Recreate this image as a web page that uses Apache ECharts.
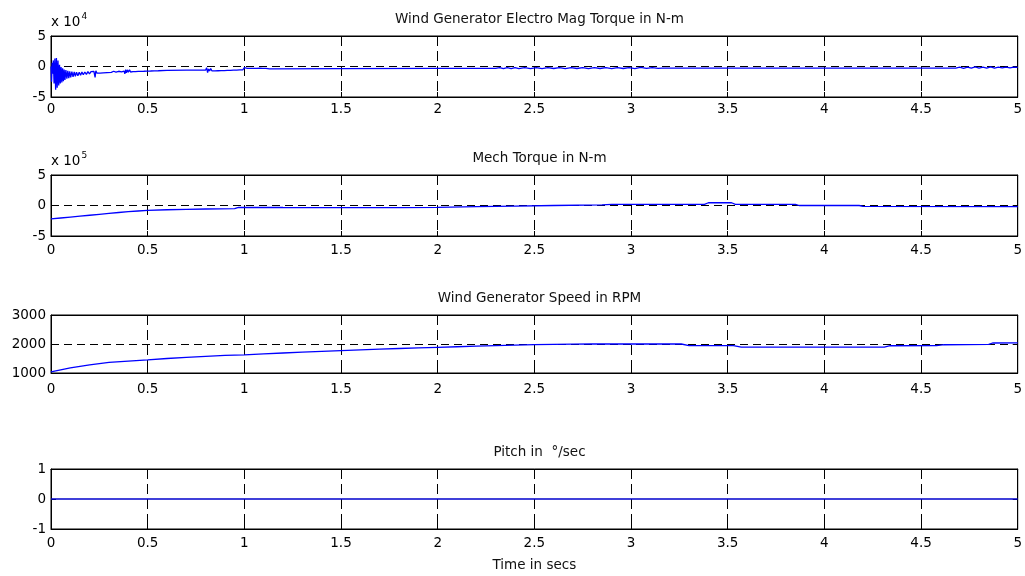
<!DOCTYPE html>
<html>
<head>
<meta charset="utf-8">
<title>Wind generator simulation</title>
<script src="https://cdn.jsdelivr.net/npm/echarts@6/dist/echarts.min.js"></script>
<style>
  html, body { margin: 0; padding: 0; background: #fff; }
  #chart { width: 1025px; height: 576px; }
</style>
</head>
<body>
<div id="chart"></div>
<script>
// Time axis ticks (seconds)
const timeTicks = [0, 0.5, 1, 1.5, 2, 2.5, 3, 3.5, 4, 4.5, 5];

// Panel titles
const panelTitles = [
  'Wind Generator Electro Mag Torque in N-m',
  'Mech Torque in N-m',
  'Wind Generator Speed in RPM',
  'Pitch in  \u00b0/sec'
];

// Electromagnetic torque, [time s, torque x 10^4 N-m]
const emTorque = [
  [0,0],[0.003,-2.5],[0.006,0.6],[0.009,-1.2],[0.012,1.0],[0.016,-2.8],[0.020,1.3],[0.024,-3.8],
  [0.028,1.4],[0.032,-3.5],[0.036,1.0],[0.040,-3.1],[0.044,0.3],[0.048,-2.8],[0.052,-0.1],[0.056,-2.6],
  [0.060,-0.3],[0.064,-2.4],[0.068,-0.5],[0.072,-2.2],[0.077,-0.6],[0.082,-2.0],[0.087,-0.7],[0.092,-1.9],
  [0.097,-0.8],[0.102,-1.8],[0.108,-0.85],[0.114,-1.7],[0.120,-0.9],[0.126,-1.6],[0.132,-0.95],[0.139,-1.5],
  [0.146,-0.95],[0.153,-1.45],[0.160,-0.9],[0.167,-1.35],[0.175,-0.9],[0.183,-1.3],[0.191,-0.85],[0.199,-1.2],
  [0.207,-0.85],[0.215,-1.15],[0.222,-0.8],[0.228,-1.8],[0.232,-0.7],[0.238,-1.1],[0.246,-0.8],[0.254,-1.1],
  [0.262,-0.8],[0.270,-1.05],[0.280,-0.8],[0.290,-1.0],[0.300,-0.8],[0.312,-0.95],[0.324,-0.78],[0.336,-0.92],
  [0.350,-0.78],[0.365,-0.88],[0.378,-0.75],[0.382,-1.2],[0.386,-0.5],[0.390,-1.05],[0.395,-0.55],[0.400,-0.95],
  [0.406,-0.55],[0.412,-0.9],[0.418,-0.6],[0.424,-0.85],[0.430,-0.55],[0.437,-0.85],[0.444,-0.6],[0.451,-0.8],
  [0.458,-0.6],[0.465,-0.8],[0.472,-0.62],[0.480,-0.78],[0.488,-0.6],[0.496,-0.75],[0.505,-0.62],[0.515,-0.74],
  [0.525,-0.62],[0.535,-0.72],[0.545,-0.64],[0.555,-0.7],[0.565,-0.66],[0.6,-0.64],[0.7,-0.6],[0.8,-0.57],
  [0.805,-0.2],[0.81,-1.0],[0.815,-0.4],[0.82,-0.75],[0.826,-0.35],[0.832,-0.7],[0.84,-0.4],[0.848,-0.72],
  [0.856,-0.4],[0.864,-0.7],[0.872,-0.45],[0.880,-0.68],[0.888,-0.42],[0.896,-0.66],[0.904,-0.4],[0.912,-0.64],
  [0.920,-0.42],[0.928,-0.62],[0.936,-0.4],[0.944,-0.6],[0.952,-0.38],[0.960,-0.58],[0.968,-0.3],[0.976,-0.56],
  [0.984,-0.32],[0.992,-0.54],[1.000,-0.2],[1.008,-0.5],[1.016,-0.3],[1.024,-0.5],[1.032,-0.32],[1.040,-0.5],
  [1.048,-0.3],[1.056,-0.5],[1.064,-0.3],[1.072,-0.48],[1.080,-0.28],[1.088,-0.46],[1.096,-0.3],[1.104,-0.45],
  [1.112,-0.3],[1.120,-0.42],[1.13,-0.38],[1.5,-0.35],[2.0,-0.31],[2.3,-0.3],
  [2.32,-0.18],[2.34,-0.36],[2.36,-0.2],[2.38,-0.35],[2.40,-0.18],[2.42,-0.34],[2.45,-0.2],[2.48,-0.36],
  [2.51,-0.17],[2.54,-0.35],[2.57,-0.2],[2.60,-0.33],[2.63,-0.18],[2.66,-0.34],[2.69,-0.2],[2.72,-0.33],
  [2.75,-0.17],[2.78,-0.35],[2.81,-0.2],[2.84,-0.33],[2.87,-0.18],[2.90,-0.34],[2.93,-0.17],[2.96,-0.33],
  [2.99,-0.19],[3.02,-0.34],[3.05,-0.16],[3.08,-0.32],[3.11,-0.18],[3.14,-0.3],[3.16,-0.28],[4.0,-0.27],
  [4.68,-0.26],[4.70,-0.12],[4.72,-0.3],[4.74,-0.1],[4.76,-0.28],[4.78,-0.08],[4.80,-0.27],[4.82,-0.1],
  [4.84,-0.26],[4.86,-0.08],[4.88,-0.25],[4.90,-0.1],[4.92,-0.24],[4.94,-0.09],[4.96,-0.22],[4.98,-0.1],
  [5.0,-0.15]
];

// Mechanical torque, [time s, torque x 10^5 N-m]
const mechTorque = [
  [0,-2.2],[0.05,-2.05],[0.1,-1.9],[0.15,-1.75],[0.2,-1.6],[0.25,-1.45],[0.3,-1.3],[0.35,-1.15],
  [0.4,-1.0],[0.45,-0.9],[0.5,-0.8],[0.6,-0.7],[0.7,-0.62],[0.8,-0.57],[0.95,-0.52],[0.97,-0.3],
  [1.2,-0.33],[1.5,-0.36],[1.8,-0.35],[2.0,-0.3],[2.2,-0.2],[2.4,-0.1],[2.6,0.0],[2.85,0.1],
  [2.9,0.2],[3.38,0.2],[3.4,0.45],[3.52,0.45],[3.54,0.2],[3.85,0.2],[3.87,0.0],[4.18,0.0],
  [4.2,-0.15],[5,-0.18]
];

// Generator speed, [time s, RPM]
const genSpeed = [
  [0,1040],[0.05,1110],[0.1,1175],[0.15,1230],[0.2,1280],[0.25,1325],[0.3,1365],[0.4,1410],
  [0.5,1450],[0.6,1500],[0.7,1540],[0.8,1575],[0.9,1605],[1.0,1625],[1.1,1660],[1.2,1690],
  [1.3,1720],[1.4,1748],[1.5,1775],[1.6,1800],[1.7,1822],[1.8,1845],[1.9,1865],[2.0,1885],
  [2.1,1905],[2.2,1925],[2.3,1945],[2.4,1962],[2.5,1978],[2.6,1988],[2.7,1995],[2.8,2000],
  [3.0,2000],[3.26,2000],[3.3,1945],[3.53,1945],[3.57,1895],[4.31,1895],[4.34,1940],[4.58,1945],
  [4.62,1975],[4.85,1985],[4.87,2035],[5,2040]
];

// Pitch rate, [time s, deg/sec]
const pitchRate = [[0,0],[5,0]];

// Y-axis ranges per panel: [min, max, interval]
const yRanges = [[-5, 5, 5], [-5, 5, 5], [1000, 3000, 1000], [-1, 1, 1]];
const yExponents = ['4', '5', null, null];

const FONT = 'DejaVu Sans, Liberation Sans, Arial, sans-serif';
const FS = 13.5;
const PLOT_LEFT = 51, PLOT_RIGHT = 1018;
const gridBoxes = [
  { top: 36, height: 61, labelGap: 5 },
  { top: 175, height: 61, labelGap: 7 },
  { top: 315, height: 58, labelGap: 9 },
  { top: 469, height: 60, labelGap: 7 }
];
const titleTops = [7, 146, 286, 440];
const seriesData = [emTorque, mechTorque, genSpeed, pitchRate];
const lineColors = ['#0000ff', '#0000ff', '#0000ff', '#0000cc'];

const vDash = [10, 5];
const hDash = [8, 5];
const grids = [], xAxes = [], yAxes = [], series = [], titles = [];

gridBoxes.forEach((g, i) => {
  grids.push({
    left: PLOT_LEFT, right: 1025 - PLOT_RIGHT, top: g.top, height: g.height,
    show: true, borderColor: '#000', borderWidth: 1, backgroundColor: '#fff'
  });
  titles.push({
    text: panelTitles[i], left: (PLOT_LEFT + PLOT_RIGHT) / 2, top: titleTops[i], textAlign: 'center',
    textStyle: { fontFamily: FONT, fontSize: FS, fontWeight: 'normal', color: '#111' }
  });
  // bottom time axis with dashed vertical grid lines
  const xb = {
    type: 'value', gridIndex: i, min: 0, max: 5, interval: 0.5, position: 'bottom',
    axisLine: { show: true, onZero: false, lineStyle: { color: '#000', width: 1 } },
    axisTick: { show: true, inside: true, length: 5, lineStyle: { color: '#000' } },
    axisLabel: { show: true, fontFamily: FONT, fontSize: FS, color: '#000', margin: g.labelGap },
    splitLine: { show: true, lineStyle: { color: '#000', type: vDash, width: 1 } }
  };
  if (i === 3) {
    xb.name = 'Time in secs';
    xb.nameLocation = 'middle';
    xb.nameGap = 29;
    xb.nameTextStyle = { fontFamily: FONT, fontSize: FS, color: '#111' };
  }
  xAxes.push(xb);
  // top ticks
  xAxes.push({
    type: 'value', gridIndex: i, min: 0, max: 5, interval: 0.5, position: 'top',
    axisLine: { show: true, onZero: false, lineStyle: { color: '#000' } },
    axisTick: { show: true, inside: true, length: 5, lineStyle: { color: '#000' } },
    axisLabel: { show: false }, splitLine: { show: false }
  });
  const r = yRanges[i];
  const yl = {
    type: 'value', gridIndex: i, min: r[0], max: r[1], interval: r[2], position: 'left',
    axisLine: { show: true, onZero: false, lineStyle: { color: '#000', width: 1 } },
    axisTick: { show: true, inside: true, length: 5, lineStyle: { color: '#000' } },
    axisLabel: {
      show: true, fontFamily: FONT, fontSize: FS, color: '#000', margin: 5,
      formatter: v => String(v)
    },
    splitLine: { show: i !== 3, lineStyle: { color: '#000', type: hDash, width: 1 } }
  };
  if (yExponents[i]) {
    yl.name = '{a|x 10}{b|' + yExponents[i] + '}';
    yl.nameLocation = 'end';
    yl.nameGap = 3;
    yl.nameTextStyle = {
      align: 'left', verticalAlign: 'bottom', fontFamily: FONT,
      rich: {
        a: { fontFamily: FONT, fontSize: FS, color: '#000' },
        b: { fontFamily: FONT, fontSize: 9, color: '#000', verticalAlign: 'top', padding: [0, 0, 10, 1] }
      }
    };
  }
  yAxes.push(yl);
  yAxes.push({
    type: 'value', gridIndex: i, min: r[0], max: r[1], interval: r[2], position: 'right',
    axisLine: { show: true, onZero: false, lineStyle: { color: '#000' } },
    axisTick: { show: true, inside: true, length: 5, lineStyle: { color: '#000' } },
    axisLabel: { show: false }, splitLine: { show: false }
  });
  series.push({
    type: 'line', xAxisIndex: 2 * i, yAxisIndex: 2 * i, data: seriesData[i],
    showSymbol: false, symbol: 'none', clip: true,
    lineStyle: { color: lineColors[i], width: 1.3 }, z: 5
  });
});

const chart = echarts.init(document.getElementById('chart'), null, { renderer: 'canvas' });
chart.setOption({
  animation: false,
  backgroundColor: '#fff',
  title: titles,
  grid: grids,
  xAxis: xAxes,
  yAxis: yAxes,
  series: series
});
</script>
</body>
</html>
